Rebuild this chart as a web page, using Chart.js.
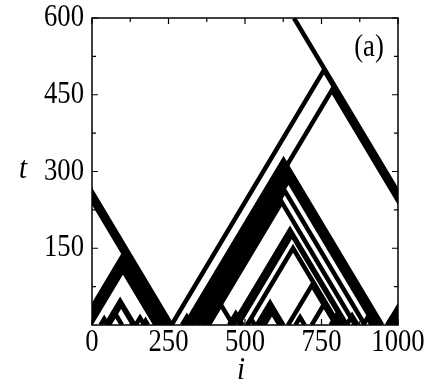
<!DOCTYPE html>
<html>
<head>
<meta charset="utf-8">
<script src="https://cdn.jsdelivr.net/npm/chart.js@4.4.0/dist/chart.umd.min.js"></script>
<style>
  html, body { margin: 0; background: #fff; }
  #wrap { width: 429px; height: 384px; }
</style>
</head>
<body>
<div id="wrap"><canvas id="chart"></canvas></div>
<script>
// wall positions: each wedge is two walls meeting at an apex (i, t)
const apexI = [98, 99, 100, 101, 92, 95, 76, 157, 175, 310, 421,
               758, 784, 626, 630, 634, 638, 642, 630, 620, 647, 653,
               657, 719, 582, 586, 588, 680, 761, 800, 850, 900, 470, 520, 40, 975];
const apexT = [133, 124, 115, 107, 47, 40, 22, 14, 8, 16, 40,
               498, 459, 322, 312, 302, 292, 282, 262, 240, 186, 176,
               150, 78, 43, 36, 25, 15, 43, 20, 18, 14, 22, 12, 12, 10];
// one left-moving wall that never meets a partner
const freeWallStart = 260;
const speed = 1;            // walls move one site per time step
const latticeSize = 1000;   // periodic lattice

const xTicks = [0, 250, 500, 750, 1000];
const xMinor = [125, 375, 625, 875];
const yTicks = [150, 300, 450, 600];
const yMinor = [75, 225, 375, 525];

const datasets = [];
function addLine(pts) {
  datasets.push({ data: pts, borderColor: '#000', borderWidth: 4.5, clip: 0,
                  pointRadius: 0, tension: 0, fill: false,
                  borderJoinStyle: 'miter', borderCapStyle: 'butt' });
}

apexI.forEach((ai, k) => {
  const at = apexT[k];
  [-latticeSize, 0, latticeSize].forEach(shift => {
    const l = ai - at / speed + shift, r = ai + at / speed + shift;
    if (r < 0 || l > latticeSize) return;
    addLine([{ x: l, y: 0 }, { x: ai + shift, y: at }, { x: r, y: 0 }]);
  });
});
[0, latticeSize].forEach(shift => {
  addLine([{ x: freeWallStart + shift, y: 0 }, { x: freeWallStart + shift - 600 / speed, y: 600 }]);
});

function txt(ctx, s, x, y, align, font, sx) {
  ctx.save();
  ctx.translate(x, y);
  ctx.scale(sx, 1);
  ctx.font = font;
  ctx.textAlign = align;
  ctx.textBaseline = 'middle';
  ctx.fillStyle = '#000';
  ctx.fillText(s, 0, 0);
  ctx.restore();
}

const frame = {
  id: 'frame',
  afterDraw(chart) {
    const { ctx, chartArea: a, scales: { x, y } } = chart;
    ctx.save();
    ctx.strokeStyle = '#000';
    ctx.lineWidth = 1.5;
    ctx.strokeRect(a.left, a.top, a.right - a.left, a.bottom - a.top);
    ctx.lineWidth = 1.2;
    ctx.beginPath();
    const tick = (v, len, horiz) => {
      if (horiz) {
        const px = x.getPixelForValue(v);
        ctx.moveTo(px, a.bottom); ctx.lineTo(px, a.bottom - len);
        ctx.moveTo(px, a.top); ctx.lineTo(px, a.top + len);
      } else {
        const py = y.getPixelForValue(v);
        ctx.moveTo(a.left, py); ctx.lineTo(a.left + len, py);
        ctx.moveTo(a.right, py); ctx.lineTo(a.right - len, py);
      }
    };
    xTicks.forEach(v => tick(v, 6, true));
    xMinor.forEach(v => tick(v, 4, true));
    yTicks.forEach(v => tick(v, 6, false));
    yMinor.forEach(v => tick(v, 4, false));
    ctx.stroke();
    ctx.restore();

    const f = '31px "Liberation Serif"';
    xTicks.forEach(v => txt(ctx, String(v), x.getPixelForValue(v), 343, 'center', f, 0.86));
    yTicks.forEach(v => txt(ctx, String(v), 84, y.getPixelForValue(v), 'right', f, 0.86));
    txt(ctx, '(a)', 369, 48, 'center', f, 0.86);
    txt(ctx, 't', 23, 170, 'center', 'italic 32px "Liberation Serif"', 0.9);
    txt(ctx, 'i', 241, 371, 'center', 'italic 32px "Liberation Serif"', 0.9);
  }
};

new Chart(document.getElementById('chart'), {
  type: 'line',
  data: { datasets },
  options: {
    responsive: true,
    maintainAspectRatio: false,
    animation: false,
    layout: { padding: { left: 92, right: 31, top: 18, bottom: 59 } },
    plugins: { legend: { display: false }, tooltip: { enabled: false } },
    scales: {
      x: { type: 'linear', min: 0, max: 1000, display: false },
      y: { type: 'linear', min: 0, max: 600, display: false }
    }
  },
  plugins: [frame]
});
</script>
</body>
</html>
